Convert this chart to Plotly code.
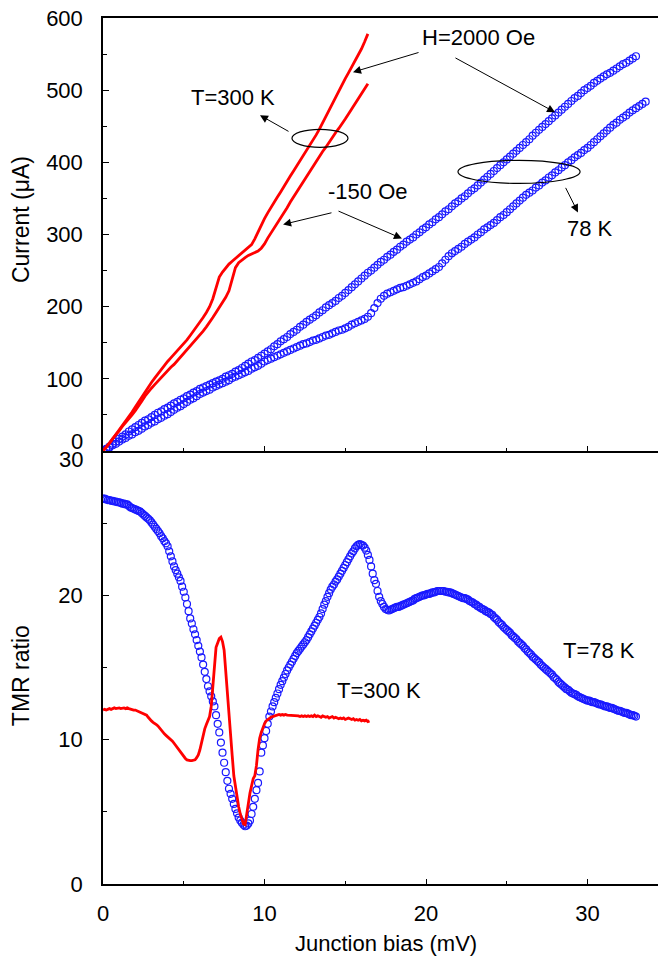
import plotly.graph_objects as go

# ---------------- data ----------------
# Top panel: I-V curves (bias in mV, current in uA)
bias_300K_iv = [round(0.2 * i, 1) for i in range(83)]          # 0 .. 16.4 mV sweep grid
I_300K_H2000 = [0, 5, 11, 17, 23, 29, 35, 42, 48, 54, 61, 68, 75, 82, 89, 95, 101, 107, 113, 119,
                124, 129, 134, 139, 143, 148, 154, 160, 166, 172, 178, 185, 192, 200, 211, 228, 241, 248, 254, 259,
                263, 267, 271, 275, 279, 282, 286, 294, 304, 313, 322, 330, 338, 345, 352, 359, 367, 374, 381, 388,
                395, 402, 409, 416, 423, 430, 438, 446, 455, 464, 473, 482, 491, 500, 508, 516, 524, 532, 540, 548,
                557, 567, 578]
I_300K_M150 = [0, 5, 11, 17, 22, 28, 34, 39, 45, 50, 56, 62, 69, 76, 82, 87, 92, 97, 102, 107,
               111, 116, 120, 125, 130, 135, 140, 145, 150, 155, 161, 166, 172, 178, 185, 192, 199, 206, 213, 222,
               240, 254, 261, 265, 268, 271, 273, 275, 277, 281, 287, 295, 302, 309, 315, 322, 329, 337, 345, 352,
               359, 366, 373, 380, 387, 394, 402, 408, 415, 421, 428, 434, 441, 447, 453, 460, 467, 474, 481, 488,
               495, 502, 509]

bias_78K_H2000 = [round(0.2 * i, 1) for i in range(166)]       # 0 .. 33.0 mV sweep grid
I_78K_H2000 = [0, 3, 6, 10, 13, 17, 20, 23, 27, 30, 33, 36, 39, 42, 44, 47, 50, 53, 55, 58,
               60, 63, 66, 68, 71, 73, 76, 78, 81, 83, 86, 88, 90, 92, 94, 96, 98, 100, 103, 105,
               107, 110, 112, 115, 118, 121, 124, 126, 129, 132, 135, 138, 141, 145, 148, 152, 155, 158, 162, 165,
               168, 172, 175, 179, 182, 185, 188, 192, 195, 199, 202, 205, 208, 212, 215, 219, 223, 227, 231, 235,
               239, 243, 247, 250, 254, 258, 262, 265, 269, 272, 276, 279, 283, 286, 290, 293, 296, 300, 303, 307,
               310, 314, 317, 321, 324, 328, 332, 335, 339, 343, 346, 350, 353, 357, 361, 364, 368, 372, 376, 380,
               384, 388, 392, 396, 400, 404, 408, 412, 416, 420, 424, 428, 432, 437, 441, 445, 449, 453, 457, 461,
               465, 469, 473, 477, 481, 485, 489, 492, 496, 500, 503, 506, 510, 513, 516, 519, 522, 524, 527, 530,
               533, 536, 538, 541, 544, 547]

bias_78K_M150 = [round(0.2 * i, 1) for i in range(169)]        # 0 .. 33.6 mV sweep grid
I_78K_M150 = [0, 2, 5, 8, 10, 13, 16, 18, 21, 23, 26, 28, 31, 34, 36, 39, 41, 44, 46, 49,
              51, 54, 57, 60, 62, 65, 68, 71, 73, 76, 79, 81, 83, 85, 88, 90, 92, 94, 96, 98,
              101, 103, 105, 107, 109, 111, 114, 116, 118, 121, 124, 126, 128, 130, 132, 134, 136, 138, 140, 142,
              144, 146, 148, 149, 151, 153, 154, 156, 158, 160, 161, 163, 165, 167, 168, 170, 172, 175, 177, 179,
              181, 183, 186, 191, 198, 205, 211, 215, 218, 220, 222, 224, 226, 227, 229, 231, 233, 235, 238, 241,
              243, 246, 249, 252, 255, 260, 265, 270, 274, 277, 280, 283, 287, 290, 293, 296, 300, 303, 307, 310,
              313, 316, 320, 324, 327, 331, 335, 339, 343, 347, 351, 355, 358, 361, 365, 368, 372, 375, 379, 382,
              386, 389, 393, 396, 400, 403, 407, 410, 413, 417, 420, 424, 428, 432, 436, 440, 444, 448, 452, 455,
              459, 462, 465, 469, 472, 475, 478, 481, 484]

# Bottom panel: TMR ratio vs bias
bias_78K_tmr = [round(0.1 * i, 1) for i in range(331)]         # 0 .. 33.0 mV sweep grid
TMR_78K = [26.7, 26.7, 26.65, 26.6, 26.6, 26.55, 26.55, 26.5, 26.5, 26.45,
           26.45, 26.4, 26.35, 26.35, 26.3, 26.3, 26.2, 26.1, 26.05, 26.0,
           25.95, 25.9, 25.85, 25.8, 25.7, 25.6, 25.5, 25.4, 25.3, 25.2,
           25.05, 24.9, 24.75, 24.6, 24.45, 24.3, 24.1, 23.95, 23.75, 23.6,
           23.4, 23.05, 22.7, 22.35, 22.0, 21.75, 21.5, 21.25, 21.0, 20.6,
           20.25, 19.85, 19.4, 18.9, 18.4, 18.05, 17.65, 17.3, 16.9, 16.5,
           16.1, 15.7, 15.2, 14.7, 14.2, 13.7, 13.35, 13.0, 12.65, 12.3,
           11.7, 11.1, 10.5, 9.8, 9.1, 8.4, 7.75, 7.15, 6.6, 6.25,
           5.9, 5.55, 5.2, 4.9, 4.6, 4.4, 4.25, 4.1, 4.0, 4.05,
           4.2, 4.4, 4.85, 5.35, 5.9, 6.5, 7.0, 7.8, 9.1, 9.6,
           10.1, 10.6, 11.1, 11.6, 11.95, 12.3, 12.6, 12.9, 13.2, 13.5,
           13.8, 14.05, 14.3, 14.55, 14.8, 15.0, 15.2, 15.4, 15.6, 15.8,
           16.0, 16.15, 16.3, 16.45, 16.6, 16.75, 16.9, 17.1, 17.3, 17.5,
           17.7, 17.9, 18.1, 18.3, 18.5, 18.75, 19.05, 19.35, 19.6, 19.9,
           20.15, 20.4, 20.6, 20.75, 20.95, 21.1, 21.3, 21.5, 21.7, 21.9,
           22.1, 22.3, 22.5, 22.7, 22.9, 23.05, 23.25, 23.4, 23.5, 23.55,
           23.5, 23.45, 23.3, 23.1, 22.8, 22.45, 22.0, 21.5, 21.05, 20.8,
           20.3, 19.9, 19.6, 19.4, 19.2, 19.05, 19.0, 18.95, 19.0, 19.05,
           19.1, 19.15, 19.2, 19.2, 19.25, 19.3, 19.35, 19.4, 19.45, 19.5,
           19.55, 19.6, 19.65, 19.75, 19.8, 19.85, 19.9, 19.95, 20.0, 20.0,
           20.05, 20.1, 20.1, 20.15, 20.2, 20.2, 20.25, 20.3, 20.3, 20.3,
           20.3, 20.3, 20.25, 20.25, 20.2, 20.2, 20.15, 20.1, 20.05, 20.0,
           19.95, 19.9, 19.85, 19.8, 19.8, 19.75, 19.7, 19.6, 19.55, 19.5,
           19.4, 19.35, 19.25, 19.2, 19.1, 19.05, 19.0, 18.9, 18.85, 18.8,
           18.7, 18.65, 18.5, 18.4, 18.3, 18.15, 18.05, 17.95, 17.8, 17.7,
           17.6, 17.5, 17.4, 17.25, 17.15, 17.05, 16.95, 16.8, 16.7, 16.6,
           16.5, 16.35, 16.25, 16.1, 16.0, 15.9, 15.75, 15.65, 15.55, 15.45,
           15.35, 15.2, 15.1, 15.0, 14.9, 14.8, 14.7, 14.6, 14.5, 14.35,
           14.25, 14.15, 14.0, 13.9, 13.8, 13.7, 13.6, 13.5, 13.45, 13.35,
           13.25, 13.2, 13.15, 13.1, 13.0, 12.95, 12.9, 12.85, 12.8, 12.75,
           12.7, 12.7, 12.65, 12.6, 12.6, 12.55, 12.5, 12.45, 12.45, 12.4,
           12.35, 12.3, 12.3, 12.25, 12.2, 12.2, 12.15, 12.1, 12.05, 12.0,
           12.0, 11.95, 11.9, 11.85, 11.85, 11.8, 11.75, 11.7, 11.7, 11.65,
           11.6]

bias_300K_tmr = [round(0.1 * i, 1) for i in range(166)]        # 0 .. 16.5 mV sweep grid
TMR_300K = [12.05, 12.1, 12.05, 12.1, 12.15, 12.1, 12.15, 12.2, 12.15, 12.2,
            12.2, 12.15, 12.2, 12.2, 12.15, 12.2, 12.15, 12.1, 12.1, 12.05,
            12.05, 12.0, 12.0, 11.95, 11.9, 11.85, 11.8, 11.7, 11.55, 11.4,
            11.3, 11.2, 11.15, 11.05, 10.95, 10.8, 10.65, 10.5, 10.4, 10.3,
            10.2, 10.15, 10.05, 9.9, 9.75, 9.6, 9.45, 9.3, 9.15, 8.95,
            8.8, 8.7, 8.6, 8.55, 8.55, 8.55, 8.55, 8.6, 8.75, 8.95,
            9.3, 9.8, 10.3, 10.75, 11.05, 11.35, 11.6, 12.3, 13.6, 15.5,
            16.4, 16.7, 17.0, 17.1, 16.8, 16.2, 14.6, 13.2, 11.7, 10.1,
            8.9, 7.5, 6.7, 6.0, 5.35, 4.85, 4.45, 4.15, 4.1, 4.8,
            5.8, 6.3, 6.8, 7.3, 7.5, 8.2, 9.3, 10.1, 10.5, 10.85,
            11.1, 11.3, 11.4, 11.5, 11.55, 11.6, 11.65, 11.7, 11.7, 11.75,
            11.7, 11.75, 11.7, 11.75, 11.7, 11.7, 11.65, 11.7, 11.65, 11.7,
            11.7, 11.65, 11.6, 11.65, 11.6, 11.65, 11.6, 11.65, 11.6, 11.65,
            11.6, 11.7, 11.6, 11.65, 11.6, 11.55, 11.65, 11.6, 11.55, 11.6,
            11.5, 11.55, 11.6, 11.5, 11.55, 11.5, 11.45, 11.5, 11.45, 11.5,
            11.4, 11.45, 11.5, 11.45, 11.4, 11.45, 11.35, 11.4, 11.35, 11.4,
            11.3, 11.35, 11.3, 11.35, 11.25, 11.3]

x_ticks = [0, 10, 20, 30]
x_tick_labels = ["0", "10", "20", "30"]
x_minor = [5, 15, 25]
cur_ticks = [0, 100, 200, 300, 400, 500, 600]
cur_tick_labels = ["", "100", "200", "300", "400", "500", "600"]
cur_minor = [50, 150, 250, 350, 450, 550]
tmr_ticks = [0, 10, 20, 30]
tmr_tick_labels = ["0", "10", "20", ""]
tmr_minor = [5, 15, 25]

# ---------------- styles ----------------
RED = "#FF0000"
BLUE = "rgb(25,25,255)"
FONT = "Liberation Sans, Arial, sans-serif"
TXT = dict(family=FONT, size=22, color="black")

fig = go.Figure()

# top panel (x2 / y2)
for xs, ys in [(bias_78K_H2000, I_78K_H2000), (bias_78K_M150, I_78K_M150)]:
    fig.add_trace(go.Scatter(x=xs, y=ys, xaxis="x2", yaxis="y2", mode="markers",
                             marker=dict(symbol="circle-open", size=7, color=BLUE,
                                         line=dict(width=1.2, color=BLUE)),
                             showlegend=False, hoverinfo="skip"))
for xs, ys in [(bias_300K_iv, I_300K_H2000), (bias_300K_iv, I_300K_M150)]:
    fig.add_trace(go.Scatter(x=xs, y=ys, xaxis="x2", yaxis="y2", mode="lines",
                             line=dict(color=RED, width=2.8),
                             showlegend=False, hoverinfo="skip"))

# bottom panel (x / y)
fig.add_trace(go.Scatter(x=bias_78K_tmr, y=TMR_78K, xaxis="x", yaxis="y", mode="markers",
                         marker=dict(symbol="circle-open", size=7, color=BLUE,
                                     line=dict(width=1.2, color=BLUE)),
                         showlegend=False, hoverinfo="skip"))
fig.add_trace(go.Scatter(x=bias_300K_tmr, y=TMR_300K, xaxis="x", yaxis="y", mode="lines",
                         line=dict(color=RED, width=2.8),
                         showlegend=False, hoverinfo="skip"))

XRANGE = [0, 34.86]
common_x = dict(range=XRANGE, showgrid=False, zeroline=False, showline=True, automargin=False,
                linecolor="black", linewidth=1.5, ticks="inside", ticklen=5, tickwidth=1.3,
                tickcolor="black", tickmode="array", tickvals=x_ticks, ticktext=x_tick_labels,
                minor=dict(tickmode="array", tickvals=x_minor, ticks="inside", ticklen=3,
                           tickwidth=1.3, tickcolor="black"),
                tickfont=TXT, ticklabeloverflow="allow")
common_y = dict(showgrid=False, zeroline=False, automargin=False, showline=True,
                linecolor="black", linewidth=1.5, ticks="inside", ticklen=6, tickwidth=1.3,
                tickcolor="black", tickmode="array", tickfont=TXT, ticklabelstandoff=14,
                ticklabeloverflow="allow")

# the page body offsets the figure by 8px; margins compensate so the plot lands in place
fig.update_layout(
    width=666, height=957,
    margin=dict(l=95, r=8, t=10, b=81, autoexpand=False),
    plot_bgcolor="white", paper_bgcolor="white",
    font=TXT,
    xaxis=dict(common_x, domain=[0, 1], anchor="y", ticklabelstandoff=9),
    xaxis2=dict(common_x, domain=[0, 1], anchor="y2", showticklabels=False, mirror=True),
    yaxis=dict(common_y, domain=[0, 0.5], range=[0, 30], anchor="x",
               tickvals=tmr_ticks, ticktext=tmr_tick_labels,
               minor=dict(tickmode="array", tickvals=tmr_minor, ticks="inside", ticklen=4,
                          tickwidth=1.3, tickcolor="black")),
    yaxis2=dict(common_y, domain=[0.5, 1], range=[0, 600], anchor="x2",
                tickvals=cur_ticks, ticktext=cur_tick_labels,
                minor=dict(tickmode="array", tickvals=cur_minor, ticks="inside", ticklen=4,
                           tickwidth=1.3, tickcolor="black")),
)

ann = []
# axis titles
ann.append(dict(text="Current (\u03bcA)", xref="paper", yref="paper", x=0, y=0.7667,
                xshift=-82, xanchor="center", yanchor="middle", textangle=-90, showarrow=False,
                font=dict(family=FONT, size=23, color="black")))
ann.append(dict(text="TMR ratio", xref="paper", yref="paper", x=0, y=0.240,
                xshift=-82, xanchor="center", yanchor="middle", textangle=-90, showarrow=False,
                font=dict(family=FONT, size=23, color="black")))
ann.append(dict(text="Junction bias (mV)", xref="paper", yref="paper", x=0.5, y=0,
                xshift=1.5, yshift=-59, xanchor="center", yanchor="middle", showarrow=False,
                font=TXT))
# separated end labels at the panel junction
ann.append(dict(text="0", xref="paper", yref="paper", x=0, y=0.5115, xshift=-18,
                xanchor="right", yanchor="middle", showarrow=False, font=TXT))
ann.append(dict(text="30", xref="paper", yref="paper", x=0, y=0.4900, xshift=-18,
                xanchor="right", yanchor="middle", showarrow=False, font=TXT))

# top panel labels
for txt, x, y in [("T=300 K", 8.05, 490), ("H=2000 Oe", 23.22, 573.6),
                  ("-150 Oe", 16.4, 359.7), ("78 K", 30.15, 308.3)]:
    ann.append(dict(text=txt, xref="x2", yref="y2", x=x, y=y, xanchor="center",
                    yanchor="middle", showarrow=False, font=TXT))
# bottom panel labels
for txt, x, y in [("T=300 K", 17.09, 13.44), ("T=78 K", 30.71, 16.2)]:
    ann.append(dict(text=txt, xref="x", yref="y", x=x, y=y, xanchor="center",
                    yanchor="middle", showarrow=False, font=TXT))

# arrows (head x,y ; tail ax,ay) in top-panel data coordinates
for (hx, hy, tx, ty) in [(9.72, 465.3, 11.58, 441.7),
                         (15.48, 525.0, 19.63, 552.8),
                         (27.99, 469.4, 21.73, 545.8),
                         (11.15, 313.9, 14.24, 330.6),
                         (18.51, 294.4, 14.49, 333.3),
                         (29.41, 330.6, 28.6, 366.7)]:
    ann.append(dict(text="", x=hx, y=hy, ax=tx, ay=ty, xref="x2", yref="y2",
                    axref="x2", ayref="y2", showarrow=True, arrowhead=2, arrowsize=1.6,
                    arrowwidth=1, arrowcolor="black", standoff=0, startstandoff=0))

fig.update_layout(annotations=ann)

# ellipses around the curve pairs
fig.add_shape(type="circle", xref="x2", yref="y2", x0=11.7, x1=15.17, y0=420.8, y1=445.8,
              line=dict(color="black", width=1.2))
fig.add_shape(type="circle", xref="x2", yref="y2", x0=21.98, x1=29.54, y0=370.8, y1=402.8,
              line=dict(color="black", width=1.2))

fig.write_html("out.html")
